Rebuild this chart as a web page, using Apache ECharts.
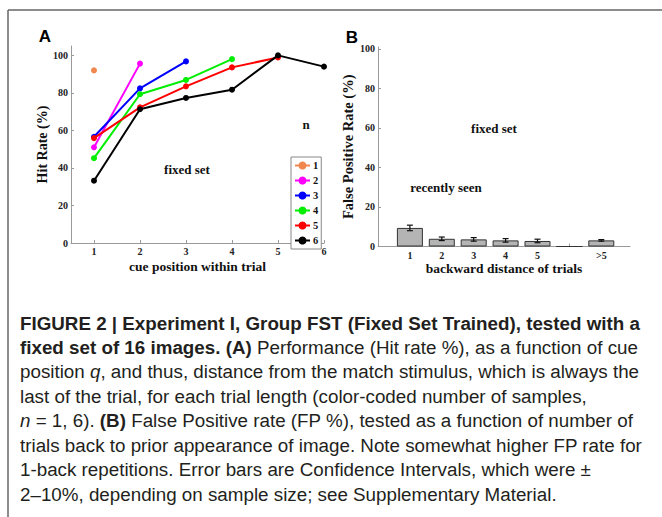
<!DOCTYPE html>
<html>
<head>
<meta charset="utf-8">
<script src="https://cdn.jsdelivr.net/npm/echarts@6/dist/echarts.min.js"></script>
<style>
  html, body { margin: 0; padding: 0; background: #fff; }
  #fig { width: 662px; height: 517px; }
</style>
</head>
<body>
<div id="fig"></div>
<script>
// panel A: hit rate by cue position, one line per trial length n
var cuePos = [1, 2, 3, 4, 5, 6];
var trialLen = ['1', '2', '3', '4', '5', '6'];
var hitN1 = [92];
var hitN2 = [51, 95.6];
var hitN3 = [56.6, 82.4, 96.8];
var hitN4 = [45.2, 79.3, 86.9, 98.0];
var hitN5 = [55.9, 72.3, 83.5, 93.6, 98.9];
var hitN6 = [33.2, 71.3, 77.3, 81.7, 100, 94.0];
var lineColors = ['#f0874f', '#ff00ff', '#0000ff', '#00ee00', '#ff0000', '#000000'];

// panel B: false positive rate by backward distance
var backDist = [1, 2, 3, 4, 5, 6, 7];
var backLabels = ['1', '2', '3', '4', '5', '', '>5'];
var fpRate = [9.4, 3.9, 3.6, 3.1, 2.8, 0, 3.1];
var fpErr = [1.4, 0.9, 0.9, 0.9, 0.9, 0, 0.4];

var pctTicks = [0, 20, 40, 60, 80, 100];

var serif = '"Liberation Serif", "DejaVu Serif", serif';
var sans = '"Liberation Sans", Arial, sans-serif';

var hitSets = [hitN1, hitN2, hitN3, hitN4, hitN5, hitN6];

var axisGrey = '#9a9a9a';
function tickLabel() {
  return { color: '#222', fontFamily: serif, fontWeight: 'bold', fontSize: 10 };
}

var lineSeries = hitSets.map(function (vals, k) {
  return {
    name: trialLen[k],
    type: 'line',
    xAxisIndex: 0, yAxisIndex: 0,
    data: vals.map(function (v, i) { return [cuePos[i], v]; }),
    symbol: 'circle',
    symbolSize: 6,
    color: lineColors[k],
    lineStyle: { width: 2 },
    z: 3 + k
  };
});

var caption = [
  '{b|FIGURE 2 | Experiment I, Group FST (Fixed Set Trained), tested with a}',
  '{b|fixed set of 16 images. (A)} Performance (Hit rate %), as a function of cue',
  'position {i|q}, and thus, distance from the match stimulus, which is always the',
  'last of the trial, for each trial length (color-coded number of samples,',
  '{i|n} = 1, 6). {b|(B)} False Positive rate (FP %), tested as a function of number of',
  'trials back to prior appearance of image. Note somewhat higher FP rate for',
  '1-back repetitions. Error bars are Confidence Intervals, which were \u00b1',
  '2\u201310%, depending on sample size; see Supplementary Material.'
];
var captionY = [323, 347.5, 371.5, 396, 420.5, 445, 469.5, 494];
var capSize = 18.8;

var graphics = [
  { type: 'line', shape: { x1: 8, y1: 10, x2: 662, y2: 10 }, style: { stroke: '#666', lineWidth: 1.5 } },
  { type: 'line', shape: { x1: 8, y1: 10, x2: 8, y2: 517 }, style: { stroke: '#666', lineWidth: 1.5 } },
  { type: 'text', x: 45, y: 36, style: { text: 'A', font: 'bold 17px ' + sans, fill: '#000', textAlign: 'center', textVerticalAlign: 'middle' } },
  { type: 'text', x: 352, y: 37, style: { text: 'B', font: 'bold 17px ' + sans, fill: '#000', textAlign: 'center', textVerticalAlign: 'middle' } },
  { type: 'text', x: 187, y: 169, style: { text: 'fixed set', font: 'bold 13px ' + serif, fill: '#111', textAlign: 'center', textVerticalAlign: 'middle' } },
  { type: 'text', x: 306, y: 124, style: { text: 'n', font: 'bold 13px ' + serif, fill: '#111', textAlign: 'center', textVerticalAlign: 'middle' } },
  { type: 'text', x: 494, y: 128, style: { text: 'fixed set', font: 'bold 13px ' + serif, fill: '#111', textAlign: 'center', textVerticalAlign: 'middle' } },
  { type: 'text', x: 446, y: 187, style: { text: 'recently seen', font: 'bold 13px ' + serif, fill: '#111', textAlign: 'center', textVerticalAlign: 'middle' } }
];
caption.forEach(function (t, i) {
  graphics.push({
    type: 'text', x: 20, y: captionY[i],
    style: {
      text: t,
      fontFamily: sans, fontSize: capSize, fill: '#231f20',
      textVerticalAlign: 'middle',
      rich: {
        b: { fontFamily: sans, fontSize: capSize, fontWeight: 'bold', fill: '#231f20' },
        i: { fontFamily: sans, fontSize: capSize, fontStyle: 'italic', fill: '#231f20' }
      }
    }
  });
});

var chart = echarts.init(document.getElementById('fig'), null, { renderer: 'svg' });
chart.setOption({
  backgroundColor: '#fff',
  animation: false,
  grid: [
    { left: 71, top: 46, width: 253, height: 197 },
    { left: 378, top: 47, width: 252, height: 199.5 }
  ],
  legend: {
    data: trialLen,
    orient: 'vertical',
    left: 291, top: 157,
    padding: [3, 3, 3, 3],
    itemWidth: 15, itemHeight: 10, itemGap: 4,
    borderColor: '#888', borderWidth: 1,
    backgroundColor: '#fff',
    textStyle: { fontFamily: serif, fontWeight: 'bold', fontSize: 10.5, lineHeight: 10, color: '#111', padding: [0, 0, 0, -2] },
    selectedMode: false
  },
  xAxis: [
    {
      type: 'value', gridIndex: 0, min: 0.5, max: 6,
      name: 'cue position within trial', nameLocation: 'middle', nameGap: 16,
      nameTextStyle: { fontFamily: serif, fontWeight: 'bold', fontSize: 13.5, color: '#111' },
      axisLine: { lineStyle: { color: axisGrey } },
      axisTick: { inside: true, length: 3, lineStyle: { color: axisGrey }, customValues: cuePos },
      axisLabel: Object.assign(tickLabel(), { margin: 3, customValues: cuePos }),
      splitLine: { show: false }
    },
    {
      type: 'value', gridIndex: 1, min: 0, max: 7.9,
      name: 'backward distance of trials', nameLocation: 'middle', nameGap: 15,
      nameTextStyle: { fontFamily: serif, fontWeight: 'bold', fontSize: 13.5, color: '#111' },
      axisLine: { lineStyle: { color: axisGrey } },
      axisTick: { inside: true, length: 3, lineStyle: { color: axisGrey }, customValues: backDist },
      axisLabel: Object.assign(tickLabel(), {
        margin: 4, customValues: backDist,
        formatter: function (v) { return backLabels[Math.round(v) - 1]; }
      }),
      splitLine: { show: false }
    }
  ],
  yAxis: [
    {
      type: 'value', gridIndex: 0, min: 0, max: 105,
      name: 'Hit Rate (%)', nameLocation: 'middle', nameGap: 21,
      nameTextStyle: { fontFamily: serif, fontWeight: 'bold', fontSize: 14, color: '#111' },
      axisLine: { show: true, lineStyle: { color: axisGrey } },
      axisTick: { show: true, inside: true, length: 3, lineStyle: { color: axisGrey }, customValues: pctTicks },
      axisLabel: Object.assign(tickLabel(), { margin: 3, customValues: pctTicks }),
      splitLine: { show: false }
    },
    {
      type: 'value', gridIndex: 1, min: 0, max: 101,
      name: 'False Positive Rate (%)', nameLocation: 'middle', nameGap: 23,
      nameTextStyle: { fontFamily: serif, fontWeight: 'bold', fontSize: 14.5, color: '#111' },
      axisLine: { show: true, lineStyle: { color: axisGrey } },
      axisTick: { show: true, inside: true, length: 3, lineStyle: { color: axisGrey }, customValues: pctTicks },
      axisLabel: Object.assign(tickLabel(), { margin: 3, customValues: pctTicks }),
      splitLine: { show: false }
    }
  ],
  series: lineSeries.concat([
    {
      name: 'fp',
      type: 'bar',
      xAxisIndex: 1, yAxisIndex: 1,
      barWidth: 26,
      data: fpRate.map(function (v, i) { return [backDist[i], v]; }),
      itemStyle: { color: '#b4b4b4', borderColor: '#333', borderWidth: 1 },
      z: 2
    },
    {
      name: 'fpErr',
      type: 'custom',
      xAxisIndex: 1, yAxisIndex: 1,
      data: fpRate.map(function (v, i) { return [backDist[i], v - fpErr[i], v + fpErr[i]]; }),
      renderItem: function (params, api) {
        if (api.value(2) - api.value(1) <= 0) return;
        var lo = api.coord([api.value(0), api.value(1)]);
        var hi = api.coord([api.value(0), api.value(2)]);
        var w = 3;
        var st = { stroke: '#111', lineWidth: 1.2 };
        return {
          type: 'group',
          children: [
            { type: 'line', shape: { x1: lo[0], y1: lo[1], x2: hi[0], y2: hi[1] }, style: st },
            { type: 'line', shape: { x1: lo[0] - w, y1: lo[1], x2: lo[0] + w, y2: lo[1] }, style: st },
            { type: 'line', shape: { x1: hi[0] - w, y1: hi[1], x2: hi[0] + w, y2: hi[1] }, style: st }
          ]
        };
      },
      z: 5
    }
  ]),
  graphic: graphics
});
</script>
</body>
</html>
